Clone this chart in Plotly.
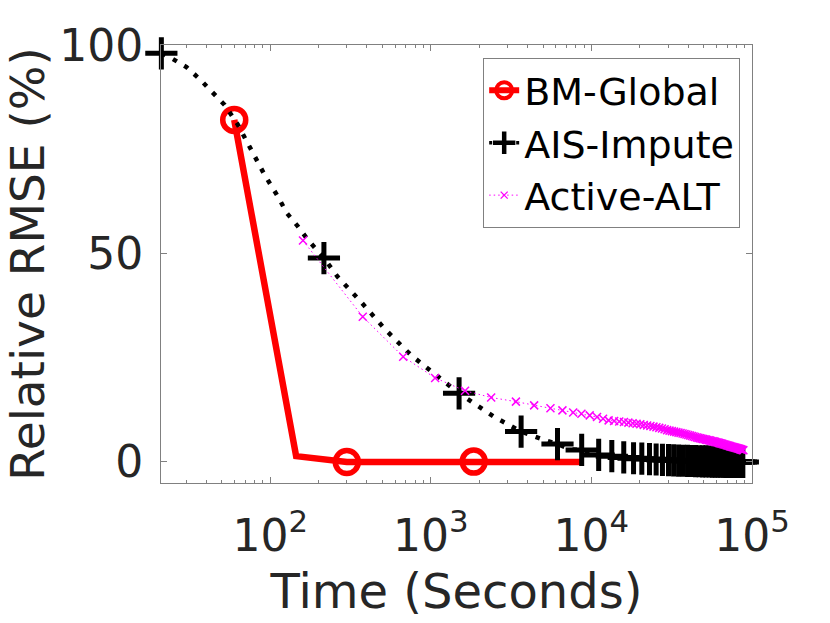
import plotly.graph_objects as go

# BM-Global (linha vermelha)
bm_t = [59.7, 145, 300, 1850, 8900]
bm_y = [82.2, 1.4, 0.0, 0.1, 0.0]
bm_mark_t = [59.7, 300, 1850]
bm_mark_y = [82.2, 0.0, 0.1]

# AIS-Impute: curva pontilhada e marcadores "+"
ais_line_t = [21, 24.3, 30.1, 36.4, 43.5, 52, 63, 72.6, 81.8, 92.2, 111.6, 127, 148.7, 171.5,
              216, 263, 367, 513, 751, 1101, 1500, 2470, 3650, 5060, 6150, 7410, 8700, 11100,
              13400, 15900, 20600, 30200, 44500, 61300, 87700, 100000]
ais_line_y = [98.2, 97.0, 94.9, 92.0, 88.9, 85.8, 81.0, 76.6, 73.0, 69.0, 63.8, 59.8, 56.6, 53.4,
              49.0, 44.5, 38.5, 32.1, 25.7, 20.5, 16.5, 10.9, 7.3, 5.3, 4.3, 3.05, 2.9, 1.7,
              1.45, 1.1, 0.8, 0.45, 0.21, 0.08, 0.0, 0.0]
ais_mark_t = [21, 216, 1500, 3650, 6150, 8700, 11100, 13400, 15900, 18300, 20600, 23000,
              25300, 27700, 30200, 32500, 34900, 37300, 39700, 42100, 44500, 46900, 49300,
              51700, 54100, 56500, 58900, 61300, 63700, 66100, 68500, 70900, 73300, 75700,
              78100, 80500, 82900, 85300, 87700]
ais_mark_y = [98.2, 49.0, 16.5, 7.3, 4.3, 2.9, 1.7, 1.4, 1.1, 0.9, 0.8, 0.7, 0.6, 0.5, 0.45,
              0.4, 0.35, 0.3, 0.27, 0.24, 0.21, 0.18, 0.16, 0.14, 0.12, 0.1, 0.09, 0.08, 0.07,
              0.06, 0.05, 0.04, 0.03, 0.03, 0.02, 0.02, 0.01, 0.01, 0.0]

# Active-ALT (magenta)
alt_t = [160, 377, 673, 1064, 1634, 2376, 3388, 4400, 5560, 6600, 7700, 8670, 9760, 10840,
         11820, 12800, 13850, 14900, 15950, 17000, 18050, 19100, 20150, 21200, 22250, 23300,
         24350, 25400, 26450, 27500, 28550, 29600, 30650, 31700, 32750, 33800, 34850, 35900,
         36950, 38000, 39050, 40100, 41150, 42200, 43250, 44300, 45350, 46400, 47450, 48500,
         49550, 50600, 51650, 52700, 53750, 54800, 55850, 56900, 57950, 59000, 60050, 61100,
         62150, 63200, 64250, 65300, 66350, 67400, 68450, 69500, 70550, 71600, 72650, 73700,
         74750, 75800, 76850, 77900, 78950, 80000, 81050, 82100, 83150, 84200, 85250, 86300,
         87350, 88400]
alt_y = [53.2, 34.9, 25.3, 20.2, 17.1, 15.5, 14.5, 13.6, 12.9, 12.4, 11.9, 11.6, 11.2, 10.8,
         10.4, 10.0, 9.87, 9.73, 9.6, 9.46, 9.32, 9.18, 9.05, 8.91, 8.77, 8.63,
         8.49, 8.34, 8.19, 8.04, 7.85, 7.65, 7.53, 7.42, 7.3, 7.18, 7.06, 6.95,
         6.83, 6.71, 6.59, 6.47, 6.36, 6.24, 6.12, 6.0, 5.89, 5.79, 5.69, 5.61,
         5.53, 5.45, 5.38, 5.3, 5.22, 5.14, 5.06, 4.98, 4.9, 4.83, 4.75, 4.67,
         4.59, 4.51, 4.43, 4.36, 4.28, 4.2, 4.12, 4.04, 3.96, 3.88, 3.81, 3.73,
         3.65, 3.59, 3.53, 3.47, 3.41, 3.35, 3.29, 3.22, 3.16, 3.09, 3.03, 2.96,
         2.9, 2.84]

x_tickvals = [1e2, 1e3, 1e4, 1e5]
x_ticktext = ['10<sup>2</sup>', '10<sup>3</sup>', '10<sup>4</sup>', '10<sup>5</sup>']
y_tickvals = [0, 50, 100]

RED = '#ff0000'
BLACK = '#000000'
MAGENTA = '#ff00ff'
TXT = '#262626'
AX = '#808080'
FONT = 'DejaVu Sans'

fig = go.Figure()

# entradas da legenda
fig.add_trace(go.Scatter(x=[None], y=[None], name='BM-Global', mode='lines+markers',
                         line=dict(color=RED, width=6),
                         marker=dict(symbol='circle-open', size=16, color=RED,
                                     line=dict(color=RED, width=4))))
fig.add_trace(go.Scatter(x=[None], y=[None], name='AIS-Impute', mode='lines+markers',
                         line=dict(color=BLACK, width=3.5, dash='3px,6px'),
                         marker=dict(symbol='cross-thin', size=16,
                                     line=dict(color=BLACK, width=4.5))))
fig.add_trace(go.Scatter(x=[None], y=[None], name='Active-ALT', mode='lines+markers',
                         line=dict(color=MAGENTA, width=1, dash='1.5px,3px'),
                         marker=dict(symbol='x-thin', size=7,
                                     line=dict(color=MAGENTA, width=1.3))))

# dados
fig.add_trace(go.Scatter(x=bm_t, y=bm_y, mode='lines', showlegend=False,
                         line=dict(color=RED, width=6.5)))
fig.add_trace(go.Scatter(x=bm_mark_t, y=bm_mark_y, mode='markers', showlegend=False,
                         cliponaxis=False,
                         marker=dict(symbol='circle-open', size=23, color=RED,
                                     line=dict(color=RED, width=5.5))))
fig.add_trace(go.Scatter(x=ais_line_t, y=ais_line_y, mode='lines', showlegend=False,
                         line=dict(color=BLACK, width=4.5, dash='4.5px,8.5px')))
fig.add_trace(go.Scatter(x=ais_mark_t, y=ais_mark_y, mode='markers', showlegend=False,
                         cliponaxis=False,
                         marker=dict(symbol='cross-thin', size=23,
                                     line=dict(color=BLACK, width=5))))
fig.add_trace(go.Scatter(x=alt_t, y=alt_y, mode='lines+markers', showlegend=False,
                         line=dict(color=MAGENTA, width=1, dash='1.5px,3px'),
                         marker=dict(symbol='x-thin', size=8,
                                     line=dict(color=MAGENTA, width=1.5))))

fig.update_layout(
    width=830,
    height=623,
    margin=dict(l=161, r=78, t=45, b=140),
    paper_bgcolor='white',
    plot_bgcolor='white',
    font=dict(family=FONT, color=TXT),
    legend=dict(x=0.98, y=0.97, xanchor='right', yanchor='top',
                bgcolor='white', bordercolor=AX, borderwidth=1,
                font=dict(family=FONT, size=38, color=BLACK),
                itemwidth=30, tracegroupgap=0),
    xaxis=dict(
        type='log',
        range=[1.32, 5.0],
        tickvals=x_tickvals,
        ticktext=x_ticktext,
        ticks='inside', ticklen=6, tickcolor=AX,
        showline=True, linecolor=AX, linewidth=1, mirror='allticks',
        showgrid=False, zeroline=False, automargin=False,
        tickfont=dict(family=FONT, size=44, color=TXT),
        ticklabelstandoff=14,
        minor=dict(ticks='inside', ticklen=3, tickcolor=AX, dtick='D1', showgrid=False),
        title=dict(text='Time (Seconds)', font=dict(family=FONT, size=48, color=TXT), standoff=14),
    ),
    yaxis=dict(
        range=[-5.05, 100.2],
        tickvals=y_tickvals,
        ticks='inside', ticklen=6, tickcolor=AX,
        showline=True, linecolor=AX, linewidth=1, mirror='allticks',
        showgrid=False, zeroline=False, automargin=False,
        tickfont=dict(family=FONT, size=44, color=TXT),
        ticklabelstandoff=8,
        title=dict(text='Relative RMSE (%)', font=dict(family=FONT, size=47, color=TXT), standoff=8),
    ),
)

# remove a margem padrão do <body> para a figura começar no canto
fig.write_html("out.html", config={'displayModeBar': False},
               post_script="document.body.style.margin='0';")
